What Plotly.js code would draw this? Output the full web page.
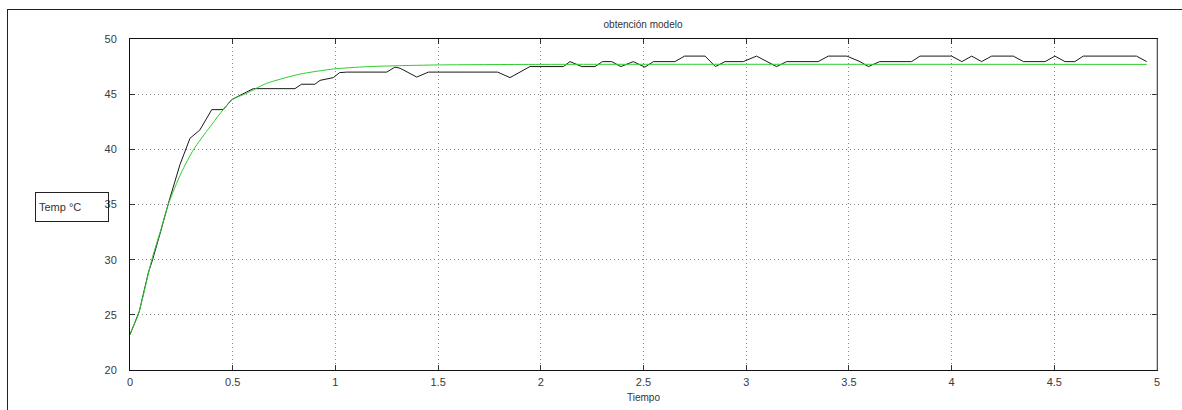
<!DOCTYPE html>
<html>
<head>
<meta charset="utf-8">
<script src="https://cdn.plot.ly/plotly-3.0.1.min.js"></script>
<style>
html,body{margin:0;padding:0;background:#fff;}
#wrap{position:relative;width:1182px;height:410px;overflow:hidden;background:#fff;}
#frame{position:absolute;left:7px;top:9px;width:1300px;height:500px;border-top:1px solid #222;border-left:1px solid #222;}
#chart{position:absolute;left:0;top:0;width:1182px;height:410px;}
</style>
</head>
<body>
<div id="wrap"><div id="frame"></div><div id="chart"></div></div>
<script>
// Measured temperature (black)
const measT = [0, 0.045, 0.089, 0.11, 0.15, 0.19, 0.243, 0.292, 0.34, 0.373, 0.398, 0.454, 0.495, 0.568, 0.60, 0.803, 0.835, 0.9, 0.925, 0.99, 1.02, 1.055, 1.25, 1.29, 1.315, 1.396, 1.453, 1.79, 1.85, 1.947, 2.11, 2.142, 2.2, 2.264, 2.30, 2.345, 2.39, 2.45, 2.507, 2.548, 2.653, 2.70, 2.80, 2.85, 2.897, 2.986, 3.05, 3.148, 3.197, 3.35, 3.40, 3.49, 3.554, 3.595, 3.65, 3.805, 3.846, 4.0, 4.05, 4.098, 4.146, 4.195, 4.30, 4.35, 4.455, 4.503, 4.552, 4.60, 4.641, 4.9, 4.95];
const measV = [23.2, 25.3, 28.8, 30.0, 32.6, 35.3, 38.6, 41.0, 41.75, 42.8, 43.6, 43.6, 44.5, 45.2, 45.5, 45.5, 45.9, 45.9, 46.25, 46.5, 46.95, 47.0, 47.0, 47.45, 47.35, 46.55, 47.0, 47.0, 46.5, 47.5, 47.5, 47.95, 47.5, 47.5, 47.95, 47.95, 47.5, 47.95, 47.45, 47.95, 47.95, 48.45, 48.45, 47.5, 47.95, 47.95, 48.45, 47.5, 47.95, 47.95, 48.45, 48.45, 47.95, 47.5, 47.95, 47.95, 48.45, 48.45, 47.95, 48.45, 47.95, 48.45, 48.45, 47.95, 47.95, 48.45, 47.95, 47.95, 48.45, 48.45, 47.95];
// Model response (green)
const modelT = [0, 0.04, 0.106, 0.15, 0.186, 0.25, 0.31, 0.39, 0.495, 0.568, 0.665, 0.83, 0.99, 1.15, 1.31, 1.5, 2.0, 4.95];
const modelV = [23.3, 25.0, 30.0, 32.7, 35.0, 37.9, 40.0, 42.05, 44.47, 45.08, 45.98, 46.83, 47.28, 47.49, 47.58, 47.65, 47.7, 47.7];

const xTicks = [0, 0.5, 1, 1.5, 2, 2.5, 3, 3.5, 4, 4.5, 5];
const xTickText = ['0', '0.5', '1', '1.5', '2', '2.5', '3', '3.5', '4', '4.5', '5'];
const yTicks = [20, 25, 30, 35, 40, 45, 50];

const fnt = {family: 'Liberation Sans, Arial, sans-serif', size: 11, color: '#3a3a3a'};

const traces = [
  {x: measT, y: measV, type: 'scatter', mode: 'lines', line: {color: '#1a1a1a', width: 1}, hoverinfo: 'skip'},
  {x: modelT, y: modelV, type: 'scatter', mode: 'lines', line: {color: '#2ecc2e', width: 1, shape: 'spline', smoothing: 0.6}, hoverinfo: 'skip'}
];

const axisCommon = {
  showline: true, linecolor: '#111', linewidth: 1, mirror: 'ticks',
  ticks: 'inside', ticklen: 5, tickcolor: '#333', tickwidth: 1,
  showgrid: true, gridcolor: '#888', gridwidth: 1, griddash: '1px,3px',
  zeroline: false, tickfont: fnt
};

const layout = {
  width: 1182, height: 410,
  margin: {l: 130, r: 25, t: 39, b: 40},
  paper_bgcolor: 'rgba(0,0,0,0)', plot_bgcolor: '#fff',
  showlegend: false,
  title: {text: 'obtención modelo', font: {family: 'Liberation Sans, Arial, sans-serif', size: 10, color: '#333'}, x: 0.544, xanchor: 'center', y: 0.94, yanchor: 'middle'},
  xaxis: Object.assign({}, axisCommon, {
    range: [0, 5], tickvals: xTicks, ticktext: xTickText, ticklabelstandoff: 2,
    title: {text: 'Tiempo', font: {family: 'Liberation Sans, Arial, sans-serif', size: 10, color: '#333'}, standoff: 6}
  }),
  yaxis: Object.assign({}, axisCommon, {
    range: [20, 50], tickvals: yTicks, ticklabelstandoff: 10
  }),
  shapes: [
    {type: 'line', xref: 'paper', yref: 'paper', x0: 1, x1: 1, y0: 0, y1: 1, line: {color: '#999', width: 1}, layer: 'above'}
  ],
  annotations: [{
    text: 'Temp °C', xref: 'paper', yref: 'paper', x: -0.0565, y: 0.4924,
    xanchor: 'center', yanchor: 'middle', showarrow: false, align: 'left',
    width: 66, height: 22, borderpad: 3, bordercolor: '#222', borderwidth: 1,
    font: {family: 'Liberation Sans, Arial, sans-serif', size: 11, color: '#333'}
  }]
};

Plotly.newPlot('chart', traces, layout, {staticPlot: true, displayModeBar: false});
</script>
</body>
</html>
